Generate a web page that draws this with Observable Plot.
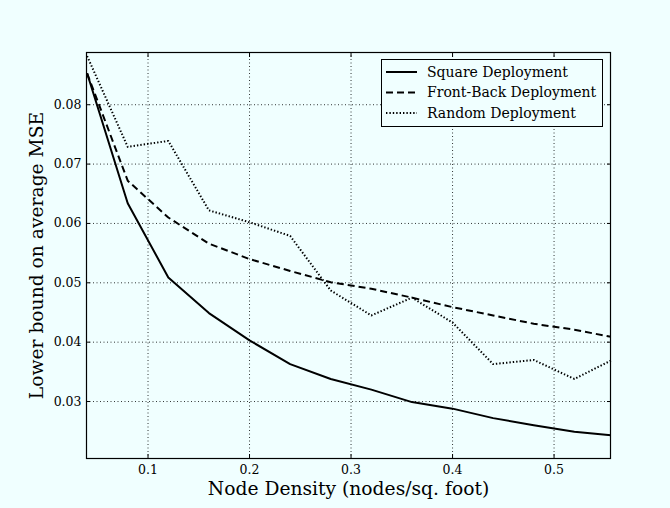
<!DOCTYPE html>
<html>
<head>
<meta charset="utf-8">
<script src="https://cdn.jsdelivr.net/npm/d3@7"></script>
<script src="https://cdn.jsdelivr.net/npm/@observablehq/plot@0.6"></script>
<style>
  html, body { margin: 0; padding: 0; background: #f0ffff; }
  #chart svg { display: block; }
</style>
</head>
<body>
<div id="chart"></div>
<script>
const density = [0.04, 0.08, 0.12, 0.16, 0.20, 0.24, 0.28, 0.32, 0.36, 0.40, 0.44, 0.48, 0.52, 0.556];
const squareMSE = [0.0853, 0.0634, 0.0509, 0.0449, 0.0403, 0.0363, 0.0338, 0.0320, 0.0299, 0.0288, 0.0272, 0.0260, 0.0249, 0.0243];
const frontBackMSE = [0.0853, 0.0672, 0.0610, 0.0566, 0.0540, 0.0520, 0.0501, 0.0490, 0.0475, 0.0459, 0.0445, 0.0431, 0.0421, 0.0409];
const randomMSE = [0.0882, 0.0729, 0.0739, 0.0622, 0.0602, 0.0579, 0.0487, 0.0445, 0.0475, 0.0433, 0.0363, 0.0370, 0.0338, 0.0369];
const seriesNames = ["Square Deployment", "Front-Back Deployment", "Random Deployment"];
const xTicks = [0.1, 0.2, 0.3, 0.4, 0.5];
const yTicks = [0.03, 0.04, 0.05, 0.06, 0.07, 0.08];
const xLabel = "Node Density (nodes/sq. foot)";
const yLabel = "Lower bound on average MSE";

const allValues = [squareMSE, frontBackMSE, randomMSE];
const dashes = [null, "7,4", "1.4,2"];
const rows = [];
allValues.forEach((vals, s) => vals.forEach((v, i) => rows.push({series: seriesNames[s], x: density[i], y: v})));

const font = "'DejaVu Serif', serif";

const lineMarks = seriesNames.map((name, s) =>
  Plot.line(rows.filter(d => d.series === name), {
    x: "x", y: "y", stroke: "black", strokeWidth: 2, strokeLinecap: "butt",
    strokeDasharray: dashes[s] ?? undefined
  })
);

const chart = Plot.plot({
  width: 670,
  height: 508,
  marginLeft: 86,
  marginRight: 60,
  marginTop: 52,
  marginBottom: 50,
  style: {background: "#f0ffff", fontFamily: font, fontSize: "12.5px", color: "black"},
  x: {domain: [0.0394, 0.5556], ticks: xTicks},
  y: {domain: [0.0204, 0.0888], ticks: yTicks},
  marks: [
    Plot.gridX(xTicks, {stroke: "black", strokeOpacity: 1, strokeWidth: 0.8, strokeDasharray: "1,2.5"}),
    Plot.gridY(yTicks, {stroke: "black", strokeOpacity: 1, strokeWidth: 0.8, strokeDasharray: "1,2.5"}),
    ...lineMarks,
    Plot.frame({stroke: "black", strokeWidth: 1.2}),
    Plot.axisX(xTicks, {anchor: "bottom", tickSize: 0, tickPadding: 7, label: null, tickFormat: d3.format(".1f"), fontSize: 12.5}),
    Plot.axisX(xTicks, {anchor: "bottom", tickSize: -4, tickFormat: () => "", label: null}),
    Plot.axisX(xTicks, {anchor: "top", tickSize: -4, tickFormat: () => "", label: null}),
    Plot.axisY(yTicks, {anchor: "left", tickSize: 0, tickPadding: 5, label: null, tickFormat: d3.format(".2f"), fontSize: 12.5}),
    Plot.axisY(yTicks, {anchor: "left", tickSize: -4, tickFormat: () => "", label: null}),
    Plot.axisY(yTicks, {anchor: "right", tickSize: -4, tickFormat: () => "", label: null}),
    Plot.text([xLabel], {frameAnchor: "bottom", lineAnchor: "middle", textAnchor: "middle", dy: 31, fontSize: 18.7, fill: "black"}),
    Plot.text([yLabel], {frameAnchor: "left", lineAnchor: "middle", textAnchor: "middle", rotate: -90, dx: -49, fontSize: 18.7, fill: "black"})
  ]
});

// Legend
const svg = d3.select(chart);
const lg = svg.append("g").attr("font-family", font).attr("font-size", 14).attr("text-anchor", "start");
lg.append("rect").attr("x", 381.5).attr("y", 59.5).attr("width", 221).attr("height", 67)
  .attr("fill", "#f0ffff").attr("stroke", "black").attr("stroke-width", 1);
seriesNames.forEach((name, i) => {
  const yy = 72 + i * 20.5;
  lg.append("line").attr("x1", 386).attr("x2", 417).attr("y1", yy).attr("y2", yy)
    .attr("stroke", "black").attr("stroke-width", 2)
    .attr("stroke-dasharray", dashes[i]);
  lg.append("text").attr("x", 427).attr("y", yy).attr("dy", "0.35em").attr("fill", "black").text(name);
});

document.getElementById("chart").appendChild(chart);
</script>
</body>
</html>
